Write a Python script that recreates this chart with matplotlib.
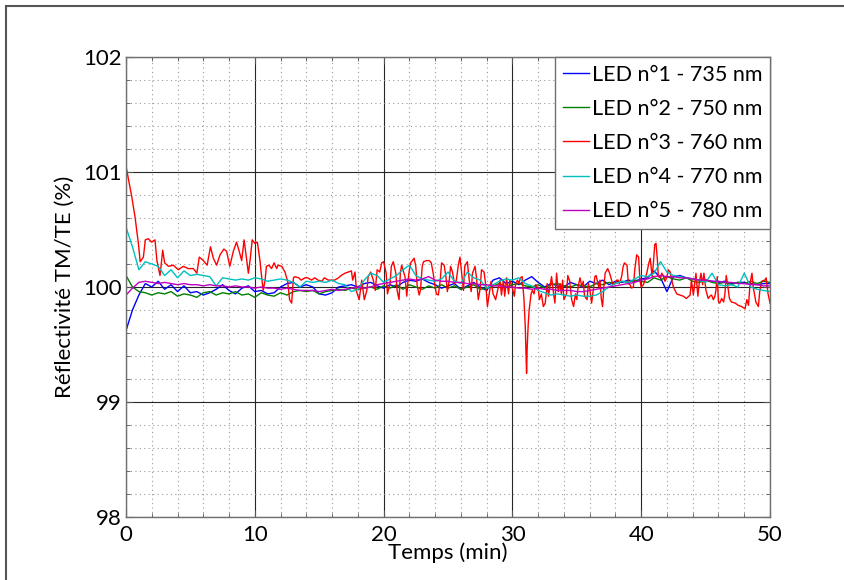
import numpy as np
import matplotlib
matplotlib.use("Agg")
import matplotlib.pyplot as plt
from matplotlib.patches import Rectangle
from matplotlib.ticker import MultipleLocator

plt.rcParams['font.family'] = ['Lato', 'DejaVu Sans']

labels = ["LED n°1 - 735 nm", "LED n°2 - 750 nm", "LED n°3 - 760 nm",
          "LED n°4 - 770 nm", "LED n°5 - 780 nm"]
colors = ["#0000ff", "#008000", "#ff0000", "#00bfbf", "#bf00bf"]

# common time grid (min) for the smoother series
t_grid = np.arange(0, 50.01, 0.5)

led1 = [99.62, 99.80, 99.93, 100.03, 100.00, 100.05, 99.98, 100.02, 99.96, 100.01,
        99.95, 99.96, 99.93, 99.95, 99.98, 100.02, 99.97, 99.94, 99.99, 100.01,
        99.96, 99.97, 99.94, 99.95, 100.00, 100.03, 100.04, 100.00, 100.02, 100.00,
        99.94, 99.93, 99.95, 100.00, 100.01, 100.02, 100.00, 100.03, 100.04, 100.01,
        99.99, 100.02, 100.00, 100.04, 100.06, 100.05, 100.07, 100.04, 100.02, 99.99,
        100.01, 100.03, 99.98, 100.01, 100.04, 100.00, 99.97, 100.06, 100.08, 100.03,
        100.05, 100.02, 100.06, 100.09, 100.04, 100.00, 100.03, 100.01, 100.00, 100.04,
        100.02, 100.00, 100.05, 100.03, 100.06, 100.02, 100.05, 100.04, 100.06, 100.05,
        100.07, 100.08, 100.14, 100.08, 99.96, 100.09, 100.10, 100.08, 100.07, 100.06,
        100.06, 100.05, 100.04, 100.05, 100.03, 100.04, 100.04, 100.03, 100.02, 100.03,
        100.03]

led2 = [100.10, 100.00, 99.96, 99.95, 99.93, 99.95, 99.94, 99.96, 99.92, 99.94,
        99.93, 99.91, 99.95, 99.96, 99.93, 99.95, 99.94, 99.96, 99.93, 99.94,
        99.91, 99.95, 99.93, 99.92, 99.95, 99.93, 99.96, 99.97, 99.96, 99.97,
        99.94, 99.96, 99.97, 99.98, 99.97, 99.99, 99.98, 99.99, 100.00, 99.98,
        100.01, 99.99, 100.02, 99.98, 100.02, 100.00, 99.98, 100.01, 99.99, 100.02,
        99.99, 100.01, 99.98, 100.00, 100.02, 99.98, 99.99, 100.01, 100.03, 100.00,
        100.02, 100.03, 100.01, 100.00, 100.02, 99.99, 100.02, 100.03, 100.01, 100.00,
        100.02, 100.01, 100.00, 100.03, 100.02, 100.04, 100.03, 100.05, 100.04, 100.06,
        100.05, 100.04, 100.08, 100.06, 100.09, 100.07, 100.06, 100.08, 100.05, 100.04,
        100.06, 100.04, 100.03, 100.04, 100.02, 100.04, 100.03, 100.05, 100.03, 100.05,
        100.04]

led4 = [100.52, 100.35, 100.15, 100.22, 100.20, 100.18, 100.10, 100.15, 100.08, 100.14,
        100.10, 100.11, 100.10, 100.09, 100.01, 100.08, 100.07, 100.06, 100.07, 100.06,
        100.08, 100.07, 100.05, 100.06, 100.07, 100.06, 100.04, 100.00, 100.05, 100.04,
        100.05, 100.04, 100.06, 100.03, 100.02, 99.96, 99.98, 100.06, 100.12, 100.10,
        100.04, 100.07, 100.10, 100.15, 100.19, 100.10, 100.07, 100.06, 100.05, 100.07,
        100.13, 100.05, 100.03, 100.13, 100.08, 100.06, 99.99, 100.02, 100.05, 100.07,
        100.06, 100.08, 100.03, 100.01, 99.97, 99.95, 99.93, 99.94, 99.93, 99.92,
        99.93, 99.92, 99.92, 99.93, 99.96, 100.00, 100.03, 100.05, 100.04, 100.07,
        100.10, 100.09, 100.12, 100.22, 100.13, 100.10, 100.09, 100.08, 100.07, 100.06,
        100.04, 100.12, 100.02, 100.01, 100.02, 100.00, 100.12, 100.00, 99.98, 99.97,
        99.96]

led5 = [99.93, 99.99, 100.04, 100.05, 100.04, 100.03, 100.04, 100.03, 100.02, 100.03,
        100.02, 100.02, 100.01, 100.02, 100.01, 100.01, 100.00, 100.01, 100.00, 100.00,
        99.99, 100.00, 99.99, 99.99, 99.98, 99.99, 99.98, 99.97, 99.97, 99.97,
        99.96, 99.97, 99.98, 99.97, 99.98, 99.99, 100.00, 99.99, 100.00, 100.02,
        100.03, 100.04, 100.05, 100.06, 100.07, 100.06, 100.07, 100.09, 100.06, 100.05,
        100.05, 100.04, 100.04, 100.03, 100.03, 100.02, 100.02, 100.01, 100.01, 100.00,
        100.00, 99.99, 99.99, 99.98, 99.99, 99.98, 99.98, 99.97, 99.97, 99.97,
        99.96, 99.96, 99.97, 99.98, 99.99, 100.00, 100.01, 100.02, 100.03, 100.04,
        100.06, 100.07, 100.09, 100.10, 100.09, 100.09, 100.08, 100.08, 100.07, 100.06,
        100.06, 100.05, 100.05, 100.04, 100.04, 100.03, 100.03, 100.02, 100.02, 100.01,
        100.01]

# LED 3 (760 nm) : (time, value) pairs, noisier
led3 = [
    (0.0, 101.05), (0.44, 100.79), (0.7, 100.61), (0.96, 100.38), (1.1, 100.22),
    (1.35, 100.26), (1.5, 100.41), (1.73, 100.42), (1.99, 100.39), (2.25, 100.41),
    (2.4, 100.23), (2.64, 100.10), (2.85, 100.32), (3.0, 100.21), (3.3, 100.18),
    (3.67, 100.19), (4.06, 100.15), (4.45, 100.18), (4.83, 100.16), (5.23, 100.16),
    (5.5, 100.12), (5.69, 100.26), (6.0, 100.23), (6.3, 100.19), (6.56, 100.35),
    (6.78, 100.25), (7.04, 100.19), (7.3, 100.28), (7.6, 100.33), (7.81, 100.31),
    (8.06, 100.18), (8.33, 100.31), (8.58, 100.39), (8.79, 100.31), (8.98, 100.23),
    (9.17, 100.41), (9.37, 100.23), (9.5, 100.12), (9.63, 100.23), (9.8, 100.41),
    (10.0, 100.38), (10.2, 100.39), (10.4, 100.23), (10.5, 100.12), (10.65, 99.97),
    (10.8, 100.06), (10.9, 100.18), (11.1, 100.19), (11.3, 100.16), (11.5, 100.21),
    (11.7, 100.16), (11.8, 100.19), (12.1, 100.18), (12.34, 100.13), (12.55, 100.05),
    (12.7, 99.89), (12.86, 99.86), (13.0, 100.08), (13.1, 100.09), (13.4, 100.08),
    (13.6, 100.06), (13.9, 100.08), (14.1, 100.08), (14.4, 100.06), (14.66, 100.08),
    (14.9, 100.06), (15.2, 100.05), (15.4, 100.08), (15.7, 100.06), (15.95, 100.06),
    (16.2, 100.06), (16.5, 100.08), (16.7, 100.10), (17.0, 100.12), (17.25, 100.13),
    (17.5, 100.14), (17.6, 100.06), (17.78, 100.13), (17.9, 99.96), (18.1, 99.89),
    (18.2, 99.97), (18.3, 100.06), (18.5, 99.89), (18.7, 99.97), (18.8, 100.09),
    (19.0, 100.13), (19.2, 100.06), (19.35, 99.97), (19.5, 100.15), (19.7, 100.13),
    (19.85, 100.21), (20.0, 100.22), (20.2, 100.12), (20.3, 99.94), (20.5, 100.03),
    (20.6, 100.18), (20.75, 100.22), (20.95, 100.12), (21.05, 99.97), (21.2, 99.89),
    (21.3, 100.12), (21.4, 100.19), (21.66, 100.09), (21.8, 99.92), (21.9, 100.06),
    (22.0, 100.15), (22.1, 100.21), (22.37, 100.25), (22.5, 100.18), (22.6, 100.02),
    (22.76, 99.93), (22.86, 99.97), (23.0, 100.18), (23.1, 100.22), (23.34, 100.23),
    (23.55, 100.23), (23.7, 100.21), (23.85, 100.12), (24.0, 100.00), (24.1, 99.94),
    (24.25, 99.93), (24.4, 100.06), (24.5, 100.21), (24.7, 100.19), (24.84, 100.09),
    (24.95, 99.96), (25.1, 100.06), (25.2, 100.18), (25.35, 100.13), (25.5, 100.03),
    (25.65, 100.06), (25.8, 100.19), (25.93, 100.26), (26.06, 100.12), (26.2, 99.97),
    (26.3, 100.18), (26.5, 100.22), (26.65, 100.06), (26.8, 99.96), (26.9, 100.12),
    (27.1, 100.18), (27.2, 100.09), (27.35, 99.89), (27.5, 99.99), (27.6, 100.15),
    (27.8, 100.13), (27.95, 100.00), (28.06, 99.83), (28.2, 99.94), (28.35, 100.05),
    (28.5, 99.94), (28.7, 99.89), (28.85, 99.97), (29.04, 100.06), (29.15, 99.93),
    (29.3, 100.06), (29.4, 99.92), (29.55, 100.08), (29.7, 99.94), (29.8, 100.06),
    (30.0, 99.99), (30.15, 99.92), (30.25, 100.03), (30.4, 100.06), (30.5, 100.03),
    (30.63, 100.08), (30.76, 100.09), (30.9, 99.89), (31.0, 99.65), (31.1, 99.25),
    (31.15, 99.48), (31.23, 99.68), (31.3, 99.80), (31.45, 99.94), (31.55, 99.97),
    (31.68, 99.94), (31.8, 100.02), (32.0, 99.99), (32.1, 99.89), (32.25, 99.94),
    (32.4, 99.83), (32.55, 99.86), (32.7, 100.03), (32.8, 99.92), (32.95, 100.03),
    (33.04, 100.09), (33.2, 99.94), (33.3, 99.86), (33.43, 100.12), (33.56, 99.96),
    (33.7, 100.03), (33.8, 99.94), (33.9, 100.06), (34.0, 99.89), (34.2, 99.94),
    (34.3, 100.10), (34.45, 100.05), (34.6, 99.89), (34.75, 99.83), (34.9, 99.94),
    (35.0, 99.89), (35.1, 100.00), (35.25, 100.08), (35.4, 100.00), (35.5, 100.05),
    (35.6, 99.92), (35.8, 99.89), (35.9, 100.03), (36.0, 99.99), (36.15, 99.86),
    (36.3, 99.99), (36.4, 100.09), (36.5, 100.10), (36.7, 100.00), (36.8, 100.06),
    (36.9, 99.90), (37.0, 99.83), (37.1, 100.00), (37.2, 100.12), (37.4, 100.16),
    (37.55, 100.12), (37.7, 100.06), (37.8, 100.02), (37.96, 100.03), (38.1, 100.06),
    (38.2, 100.06), (38.3, 100.03), (38.48, 100.09), (38.6, 100.18), (38.7, 100.21),
    (38.9, 100.19), (39.0, 100.03), (39.13, 100.02), (39.25, 99.99), (39.39, 100.00),
    (39.5, 100.15), (39.65, 100.28), (39.8, 100.26), (39.9, 100.06), (40.0, 100.00),
    (40.17, 100.02), (40.3, 100.06), (40.43, 100.12), (40.6, 100.21), (40.7, 100.25),
    (40.85, 100.09), (40.95, 100.21), (41.05, 100.37), (41.15, 100.38), (41.26, 100.23),
    (41.33, 100.09), (41.5, 100.08), (41.6, 100.12), (41.7, 100.10), (41.85, 100.05),
    (41.98, 100.08), (42.1, 100.15), (42.25, 100.13), (42.37, 100.06), (42.5, 100.00),
    (42.76, 99.94), (43.0, 99.93), (43.27, 99.92), (43.5, 99.90), (43.8, 99.93),
    (43.9, 100.06), (44.05, 99.93), (44.25, 100.12), (44.4, 99.92), (44.5, 100.03),
    (44.64, 100.12), (44.77, 100.02), (44.87, 100.12), (45.03, 99.97), (45.2, 99.90),
    (45.33, 99.92), (45.46, 99.93), (45.6, 99.89), (45.72, 99.92), (45.8, 99.97),
    (45.9, 100.09), (46.0, 99.87), (46.1, 99.86), (46.25, 99.90), (46.4, 99.87),
    (46.5, 99.94), (46.6, 100.10), (46.7, 100.03), (46.85, 99.90), (47.0, 99.87),
    (47.3, 99.86), (47.54, 99.84), (47.8, 99.83), (48.06, 99.81), (48.2, 99.89),
    (48.33, 99.84), (48.45, 100.03), (48.6, 100.12), (48.7, 100.00), (48.9, 99.87),
    (49.1, 99.83), (49.2, 99.96), (49.35, 100.05), (49.6, 100.06), (49.7, 100.08),
    (49.85, 99.94), (50.0, 99.86),
]
led3_t = [p[0] for p in led3]
led3_v = [p[1] for p in led3]

x_ticks = [0, 10, 20, 30, 40, 50]
y_ticks = [98, 99, 100, 101, 102]

fig = plt.figure(figsize=(8.45, 5.8), dpi=100)
ax = fig.add_axes([126/845, 1 - 517/580, (770-126)/845, (517-57)/580])

series = [(t_grid, led1), (t_grid, led2), (led3_t, led3_v), (t_grid, led4), (t_grid, led5)]
for (tx, vy), lab, col in zip(series, labels, colors):
    ax.plot(tx, vy, color=col, lw=1.0, label=lab)

ax.set_xlim(0, 50)
ax.set_ylim(98, 102)
ax.set_xticks(x_ticks)
ax.set_yticks(y_ticks)
ax.xaxis.set_minor_locator(MultipleLocator(2))
ax.yaxis.set_minor_locator(MultipleLocator(0.2))
ax.grid(which='major', color='#262626', lw=0.8, ls='-')
ax.grid(which='minor', color='#9a9a9a', lw=0.8, ls=(0, (1, 3)))
ax.set_axisbelow(True)
ax.tick_params(which='both', direction='in', top=True, right=True,
               labelsize=16, colors='#555555', labelcolor='black')
ax.tick_params(which='major', length=5)
ax.tick_params(axis='x', which='major', pad=6)
ax.tick_params(axis='y', which='major', pad=3)
ax.tick_params(which='minor', length=3)
for s in ax.spines.values():
    s.set_color('#707070')
    s.set_linewidth(1.0)

ax.set_xlabel("Temps (min)", fontsize=16, labelpad=-2)
ax.set_ylabel("Réflectivité TM/TE (%)", fontsize=16, labelpad=6)

leg = ax.legend(loc='upper right', borderaxespad=0, fancybox=False,
                framealpha=1, edgecolor='#707070', fontsize=15.5,
                handlelength=1.2, handletextpad=0.15, borderpad=0.35,
                labelspacing=0.66)
leg.get_frame().set_linewidth(1.0)

fig.patches.append(Rectangle((6/845, -0.2), 2.0, 1 - 6/580 + 0.2,
                             transform=fig.transFigure, fill=False,
                             edgecolor='#555555', lw=1.5))

fig.savefig("out.png", dpi=100)
